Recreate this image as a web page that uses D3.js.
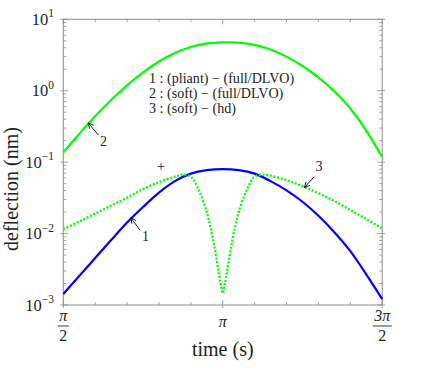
<!DOCTYPE html>
<html><head><meta charset="utf-8">
<script src="https://cdn.jsdelivr.net/npm/d3@7"></script>
<style>
html,body{margin:0;padding:0;background:#fff;}
</style></head>
<body><svg id="c" width="424" height="382"></svg>
<script>
// time in units of pi
const tMain = [0.5,0.55,0.6,0.65,0.7,0.75,0.8,0.85,0.9,0.95,1.0,1.05,1.1,1.15,1.2,1.25,1.3,1.35,1.4,1.45,1.5];
// curve 1 : (pliant) - (full/DLVO)
const series1 = [0.00143,0.00255,0.00454,0.00811,0.01426,0.0235,0.0374,0.0542,0.0690,0.0773,0.0798,0.0773,0.0690,0.0542,0.0403,0.0279,0.0178,0.01047,0.00569,0.00269,0.00121];
// curve 2 : (soft) - (full/DLVO)
const series2 = [0.137,0.248,0.438,0.741,1.191,1.807,2.56,3.37,4.09,4.59,4.76,4.70,4.39,3.78,3.00,2.22,1.54,0.982,0.565,0.277,0.118];
// curve 3 : (soft) - (hd)
const t3 = [0.5,0.55,0.6,0.65,0.7,0.75,0.8,0.85,0.875,0.9,0.925,0.95,0.96,0.97,0.98,0.99,0.995,1.0,1.005,1.01,1.02,1.03,1.04,1.05,1.075,1.1,1.125,1.15,1.2,1.25,1.3,1.35,1.4,1.45,1.5];
const series3 = [0.01156,0.01473,0.01906,0.02467,0.0318,0.0419,0.0525,0.0626,0.0668,0.0626,0.0405,0.0200,0.01315,0.00811,0.00454,0.00239,0.00185,0.00146,0.00185,0.00239,0.00454,0.00811,0.01315,0.0200,0.0405,0.0626,0.0668,0.0647,0.0560,0.0461,0.0368,0.0285,0.0213,0.0160,0.01183];
const legendLines = ["1 : (pliant) \u2212 (full/DLVO)","2 : (soft) \u2212 (full/DLVO)","3 : (soft) \u2212 (hd)"];
const yTickExp = [1,0,-1,-2,-3];
const xTicks = [0.5,1.0,1.5];
const xMinor = [0.6,0.7,0.8,0.9,1.1,1.2,1.3,1.4];
// annotations: [label, headT, headV, tailT, tailV, textT, textV]
const annots = [
  ["2",0.578,0.355,0.610,0.239,0.626,0.197],
  ["1",0.712,0.01664,0.740,0.0112,0.758,0.00922],
  ["3",1.256,0.0441,1.286,0.0622,1.302,0.0859]
];
const plusMark = [0.806,0.0859];

const FONT="Liberation Serif";
const svg = d3.select("#c").attr("font-family",FONT);
const L=63.3,R=382.2,T=19.3,B=305;
const x = d3.scaleLinear().domain([0.5,1.5]).range([L,R]);
const y = d3.scaleLog().domain([1e-3,10]).range([B,T]);
const axisCol="#8c8c8c", txt="#222";
const addText=(sel)=>sel.append("text").attr("font-family",FONT).attr("fill",txt);

// box
svg.append("rect").attr("x",L).attr("y",T).attr("width",R-L).attr("height",B-T)
  .attr("fill","none").attr("stroke",axisCol).attr("stroke-width",1);

// ticks
const g=svg.append("g").attr("stroke",axisCol).attr("stroke-width",0.8);
yTickExp.forEach(e=>{
  const yy=y(Math.pow(10,e));
  g.append("line").attr("x1",L-3).attr("x2",L+5).attr("y1",yy).attr("y2",yy);
  g.append("line").attr("x1",R-5).attr("x2",R+3).attr("y1",yy).attr("y2",yy);
  if(e>-3){
    for(let m=2;m<=9;m++){
      const yv=y(m*Math.pow(10,e-1));
      g.append("line").attr("x1",L).attr("x2",L+3).attr("y1",yv).attr("y2",yv);
      g.append("line").attr("x1",R-3).attr("x2",R).attr("y1",yv).attr("y2",yv);
    }
  }
});
xTicks.concat(xMinor).forEach(t=>{
  const xx=x(t); const maj=xTicks.includes(t);
  g.append("line").attr("x1",xx).attr("x2",xx).attr("y1",B+(maj?3:0)).attr("y2",B-(maj?5:3));
  g.append("line").attr("x1",xx).attr("x2",xx).attr("y1",T).attr("y2",T+(maj?5:3));
});

// y tick labels
yTickExp.forEach(e=>{
  const yy=y(Math.pow(10,e));
  const t=addText(svg).attr("x",54).attr("y",yy+5.5).attr("text-anchor","end").attr("font-size",16.5);
  t.append("tspan").text("10");
  t.append("tspan").attr("dy",-7.5).attr("font-size",11.5).text(e<0?"\u2212"+(-e):String(e));
});

// x tick labels
const xl=svg.append("g").attr("text-anchor","middle");
function frac(cx,num){
  addText(xl).attr("x",cx).attr("y",321).attr("font-size",16).attr("font-style","italic").text(num);
  xl.append("line").attr("x1",cx-(num.length>1?9.5:5.5)).attr("x2",cx+(num.length>1?9.5:5.5)).attr("y1",326).attr("y2",326)
    .attr("stroke",txt).attr("stroke-width",0.9);
  addText(xl).attr("x",cx).attr("y",340.5).attr("font-size",16).text("2");
}
frac(x(0.5),"\u03c0");
addText(xl).attr("x",x(1.0)).attr("y",327).attr("font-size",16).attr("font-style","italic").text("\u03c0");
frac(x(1.5),"3\u03c0");

// axis titles
addText(svg).attr("x",x(1.0)).attr("y",356).attr("text-anchor","middle").attr("font-size",20).text("time (s)");
addText(svg).attr("transform","translate(18,189) rotate(-90)").attr("text-anchor","middle")
  .attr("font-size",20).text("deflection (nm)");

// curves
const line=(ts)=>d3.line().x((d,i)=>x(ts[i])).y(d=>y(d)).curve(d3.curveCatmullRom.alpha(0.5));
svg.append("path").datum(series2).attr("d",line(tMain)).attr("fill","none")
  .attr("stroke","#00ff00").attr("stroke-width",2.2);
svg.append("path").datum(series1).attr("d",line(tMain)).attr("fill","none")
  .attr("stroke","#0000ff").attr("stroke-width",2.2);
svg.append("path").datum(series3).attr("d",line(t3)).attr("fill","none")
  .attr("stroke","#00ff00").attr("stroke-width",2.3).attr("stroke-dasharray","2 1.7");

// legend text
legendLines.forEach((s,i)=>{
  addText(svg).attr("x",149).attr("y",82.5+i*15).attr("font-size",14.1).text(s);
});

// annotations
annots.forEach(a=>{
  const hx=x(a[1]),hy=y(a[2]),tx=x(a[3]),ty=y(a[4]);
  svg.append("line").attr("x1",tx).attr("y1",ty).attr("x2",hx).attr("y2",hy).attr("stroke","#000").attr("stroke-width",0.9);
  const ang=Math.atan2(hy-ty,hx-tx), len=6, sp=0.45;
  const p=[[hx-len*Math.cos(ang-sp),hy-len*Math.sin(ang-sp)],[hx,hy],[hx-len*Math.cos(ang+sp),hy-len*Math.sin(ang+sp)]];
  svg.append("path").attr("d",d3.line()(p)).attr("fill","none").attr("stroke","#000").attr("stroke-width",0.9);
  addText(svg).attr("x",x(a[5])).attr("y",y(a[6])+4.5).attr("text-anchor","middle").attr("font-size",14).text(a[0]);
});
addText(svg).attr("x",x(plusMark[0])).attr("y",y(plusMark[1])+4.5).attr("text-anchor","middle")
  .attr("font-size",15).text("+");
</script></body></html>
